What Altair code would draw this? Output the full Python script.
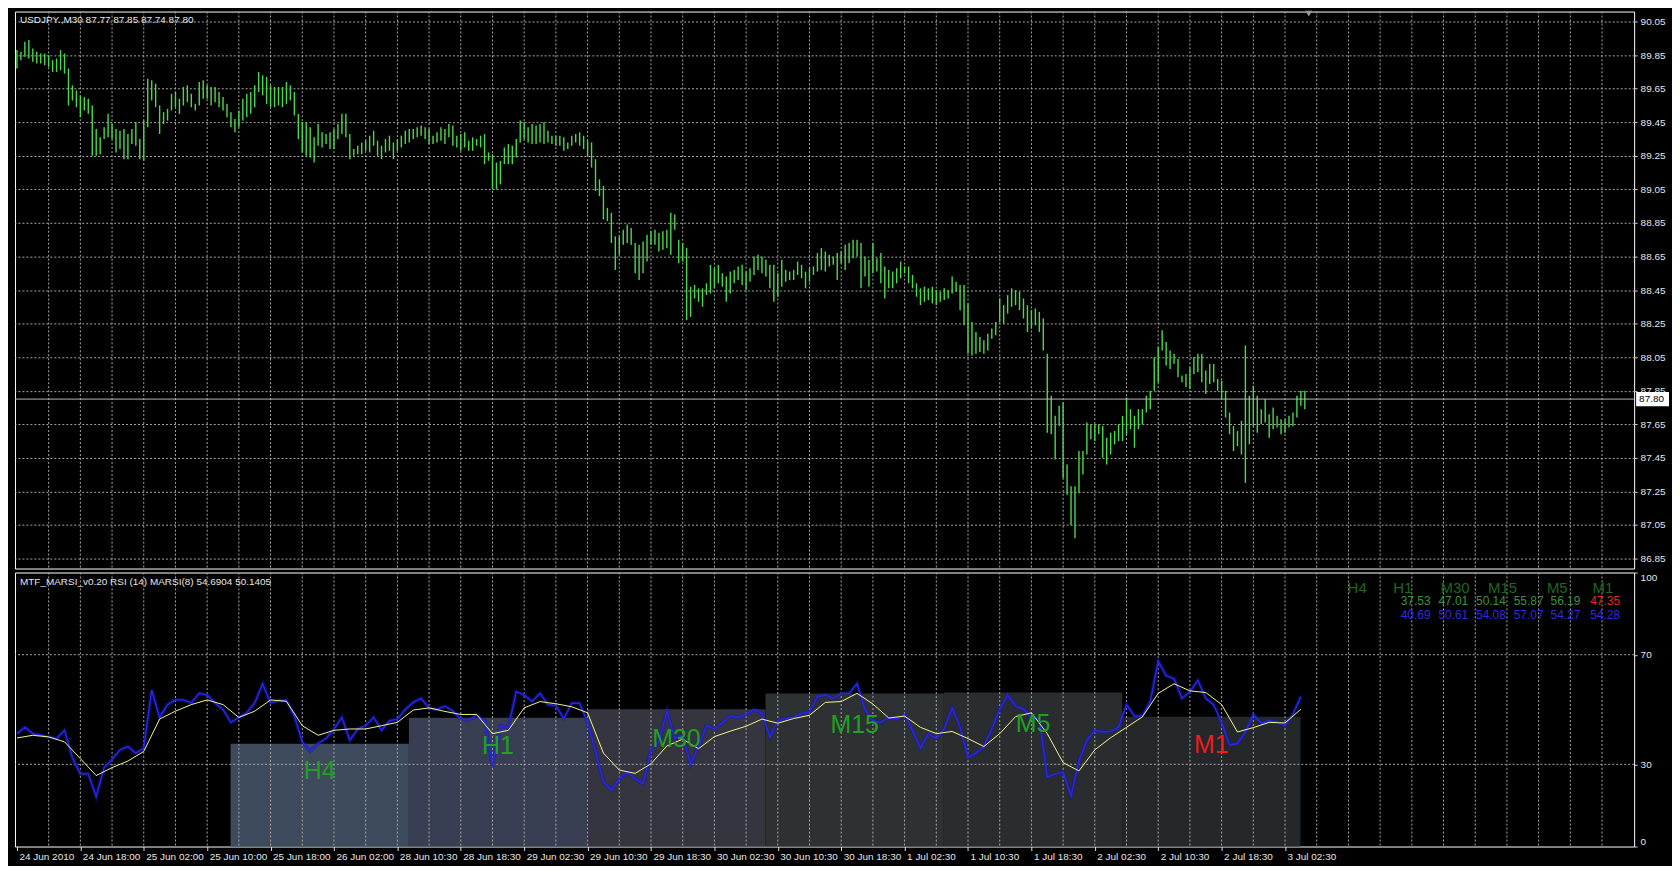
import altair as alt
import pandas as pd

# ---------------- data ----------------
header_main = "USDJPY.,M30  87.77 87.85 87.74 87.80"
last_close = 87.80

highs = [
    89.88, 89.87, 89.93, 89.94, 89.89, 89.87, 89.86, 89.86, 89.85, 89.82,
    89.83, 89.88, 89.86, 89.77, 89.67, 89.64, 89.61, 89.60, 89.59, 89.55,
    89.41, 89.36, 89.42, 89.50, 89.44, 89.41, 89.40, 89.41, 89.38, 89.41,
    89.45, 89.35, 89.46, 89.71, 89.70, 89.68, 89.55, 89.51, 89.53, 89.62,
    89.63, 89.59, 89.66, 89.67, 89.62, 89.56, 89.69, 89.70, 89.67, 89.66,
    89.66, 89.63, 89.60, 89.56, 89.51, 89.47, 89.52, 89.59, 89.62, 89.63,
    89.67, 89.75, 89.73, 89.72, 89.67, 89.66, 89.66, 89.66, 89.69, 89.67,
    89.63, 89.50, 89.45, 89.45, 89.42, 89.36, 89.44, 89.39, 89.38, 89.39,
    89.41, 89.44, 89.50, 89.50, 89.38, 89.29, 89.31, 89.33, 89.34, 89.37,
    89.40, 89.34, 89.31, 89.35, 89.37, 89.33, 89.35, 89.37, 89.40, 89.41,
    89.41, 89.42, 89.43, 89.42, 89.41, 89.37, 89.39, 89.42, 89.41, 89.44,
    89.43, 89.37, 89.38, 89.39, 89.34, 89.36, 89.35, 89.37, 89.38, 89.27,
    89.26, 89.21, 89.22, 89.30, 89.32, 89.31, 89.35, 89.46, 89.45, 89.42,
    89.44, 89.43, 89.44, 89.45, 89.40, 89.37, 89.37, 89.37, 89.36, 89.33,
    89.37, 89.38, 89.39, 89.37, 89.34, 89.33, 89.23, 89.11, 89.07, 88.94,
    88.91, 88.77, 88.77, 88.81, 88.84, 88.82, 88.73, 88.72, 88.74, 88.78,
    88.80, 88.81, 88.79, 88.80, 88.81, 88.91, 88.90, 88.75, 88.73, 88.70,
    88.47, 88.48, 88.46, 88.46, 88.49, 88.60, 88.58, 88.60, 88.55, 88.53,
    88.56, 88.57, 88.59, 88.60, 88.56, 88.58, 88.65, 88.66, 88.65, 88.63,
    88.60, 88.60, 88.55, 88.63, 88.57, 88.56, 88.57, 88.62, 88.60, 88.56,
    88.58, 88.59, 88.67, 88.70, 88.68, 88.66, 88.65, 88.67, 88.68, 88.72,
    88.73, 88.75, 88.75, 88.73, 88.65, 88.63, 88.73, 88.64, 88.67, 88.59,
    88.57, 88.56, 88.58, 88.62, 88.59, 88.59, 88.54, 88.49, 88.46, 88.47,
    88.46, 88.47, 88.45, 88.44, 88.46, 88.45, 88.53, 88.50, 88.48, 88.48,
    88.37, 88.26, 88.20, 88.17, 88.15, 88.19, 88.22, 88.26, 88.40, 88.36,
    88.42, 88.46, 88.45, 88.44, 88.40, 88.36, 88.33, 88.34, 88.32, 88.28,
    88.07, 87.82, 87.70, 87.76, 87.78, 87.41, 87.28, 87.28, 87.49, 87.49,
    87.66, 87.65, 87.65, 87.65, 87.64, 87.57, 87.60, 87.61, 87.65, 87.70,
    87.81, 87.74, 87.70, 87.74, 87.74, 87.82, 87.85, 88.05, 88.11, 88.21,
    88.14, 88.09, 88.07, 88.04, 87.94, 87.95, 87.99, 88.05, 88.07, 88.07,
    87.97, 88.01, 88.01, 87.92, 87.91, 87.85, 87.72, 87.64, 87.61, 87.67,
    88.12, 87.82, 87.88, 87.82, 87.74, 87.80, 87.71, 87.75, 87.70, 87.68,
    87.68, 87.70, 87.72, 87.82, 87.85, 87.85,
]
lows = [
    89.77, 89.82, 89.84, 89.83, 89.81, 89.80, 89.80, 89.79, 89.78, 89.75,
    89.75, 89.76, 89.74, 89.55, 89.58, 89.54, 89.48, 89.52, 89.50, 89.25,
    89.25, 89.26, 89.35, 89.36, 89.35, 89.27, 89.29, 89.23, 89.23, 89.32,
    89.31, 89.23, 89.22, 89.42, 89.58, 89.54, 89.38, 89.44, 89.46, 89.52,
    89.54, 89.50, 89.55, 89.57, 89.54, 89.52, 89.55, 89.59, 89.59, 89.55,
    89.57, 89.54, 89.52, 89.48, 89.42, 89.39, 89.42, 89.46, 89.48, 89.50,
    89.54, 89.63, 89.61, 89.56, 89.54, 89.54, 89.55, 89.54, 89.56, 89.58,
    89.49, 89.35, 89.27, 89.25, 89.24, 89.21, 89.31, 89.30, 89.32, 89.29,
    89.29, 89.35, 89.38, 89.36, 89.23, 89.25, 89.26, 89.26, 89.28, 89.27,
    89.31, 89.25, 89.23, 89.27, 89.28, 89.23, 89.28, 89.30, 89.32, 89.33,
    89.35, 89.36, 89.37, 89.35, 89.32, 89.32, 89.33, 89.34, 89.32, 89.36,
    89.31, 89.30, 89.28, 89.30, 89.28, 89.28, 89.31, 89.30, 89.20, 89.22,
    89.05, 89.05, 89.08, 89.20, 89.20, 89.20, 89.24, 89.33, 89.35, 89.33,
    89.32, 89.32, 89.33, 89.32, 89.33, 89.32, 89.31, 89.31, 89.28, 89.29,
    89.31, 89.33, 89.31, 89.29, 89.25, 89.18, 89.04, 89.01, 88.87, 88.86,
    88.73, 88.57, 88.66, 88.72, 88.73, 88.72, 88.55, 88.51, 88.55, 88.62,
    88.72, 88.72, 88.68, 88.69, 88.70, 88.66, 88.81, 88.61, 88.62, 88.27,
    88.29, 88.40, 88.38, 88.35, 88.42, 88.43, 88.46, 88.49, 88.47, 88.38,
    88.43, 88.49, 88.51, 88.48, 88.45, 88.50, 88.54, 88.57, 88.55, 88.53,
    88.46, 88.38, 88.41, 88.47, 88.50, 88.51, 88.51, 88.54, 88.52, 88.46,
    88.50, 88.54, 88.56, 88.57, 88.56, 88.59, 88.60, 88.51, 88.61, 88.57,
    88.61, 88.64, 88.65, 88.46, 88.53, 88.47, 88.55, 88.56, 88.49, 88.40,
    88.46, 88.46, 88.49, 88.52, 88.55, 88.49, 88.46, 88.41, 88.36, 88.38,
    88.39, 88.37, 88.36, 88.38, 88.39, 88.40, 88.43, 88.44, 88.33, 88.24,
    88.07, 88.06, 88.07, 88.08, 88.07, 88.09, 88.16, 88.18, 88.26, 88.25,
    88.31, 88.35, 88.36, 88.33, 88.28, 88.20, 88.22, 88.24, 88.20, 88.09,
    87.60, 87.59, 87.44, 87.64, 87.33, 87.23, 87.05, 86.97, 87.24, 87.35,
    87.47, 87.56, 87.55, 87.59, 87.45, 87.41, 87.47, 87.53, 87.55, 87.55,
    87.59, 87.62, 87.51, 87.62, 87.65, 87.72, 87.74, 87.85, 87.90, 88.09,
    88.00, 87.98, 88.01, 87.93, 87.90, 87.87, 87.86, 87.95, 87.96, 87.90,
    87.83, 87.89, 87.90, 87.85, 87.80, 87.69, 87.59, 87.49, 87.52, 87.47,
    87.30, 87.53, 87.64, 87.60, 87.65, 87.66, 87.57, 87.62, 87.63, 87.59,
    87.60, 87.63, 87.64, 87.69, 87.76, 87.74,
]

time_labels = [
    "24 Jun 2010", "24 Jun 18:00", "25 Jun 02:00", "25 Jun 10:00", "25 Jun 18:00",
    "26 Jun 02:00", "28 Jun 10:30", "28 Jun 18:30", "29 Jun 02:30", "29 Jun 10:30",
    "29 Jun 18:30", "30 Jun 02:30", "30 Jun 10:30", "30 Jun 18:30", "1 Jul 02:30",
    "1 Jul 10:30", "1 Jul 18:30", "2 Jul 02:30", "2 Jul 10:30", "2 Jul 18:30",
    "3 Jul 02:30",
]
price_ticks = [90.05, 89.85, 89.65, 89.45, 89.25, 89.05, 88.85, 88.65, 88.45,
               88.25, 88.05, 87.85, 87.65, 87.45, 87.25, 87.05, 86.85]

header_ind = "MTF_MARSI_v0.20  RSI (14)  MARSI(8) 54.6904 50.1405"
rsi_step = 2
rsi14 = [
    41.2, 43.5, 41.2, 40.6, 40.0, 39.4, 42.4, 32.4, 26.5, 26.5,
    18.2, 28.8, 31.8, 35.3, 36.5, 34.1, 35.9, 57.1, 47.1, 51.8,
    53.5, 53.5, 52.4, 55.9, 55.3, 52.4, 50.0, 45.3, 47.1, 48.8,
    52.4, 59.4, 52.4, 53.3, 53.3, 47.7, 38.2, 34.7, 37.7, 39.4,
    42.9, 47.1, 38.8, 42.9, 44.1, 47.1, 42.4, 45.9, 46.5, 50.0,
    52.6, 54.1, 50.5, 50.0, 51.2, 49.4, 46.5, 46.2, 47.9, 45.9,
    29.4, 44.1, 43.5, 56.5, 55.3, 52.9, 55.9, 51.8, 51.4, 46.7,
    52.3, 52.3, 45.3, 34.7, 23.5, 20.6, 24.7, 27.1, 24.7, 22.9,
    35.3, 38.2, 49.4, 39.4, 40.6, 30.0, 36.5, 44.1, 43.0, 45.1,
    47.6, 47.1, 48.2, 50.0, 48.6, 40.0, 46.0, 46.7, 47.1, 48.6,
    49.1, 54.7, 55.3, 54.1, 55.9, 55.9, 59.4, 50.0, 45.9, 45.3,
    47.1, 46.5, 48.2, 42.4, 35.9, 41.2, 39.4, 43.0, 50.6, 43.5,
    32.4, 34.1, 36.5, 43.0, 50.0, 55.3, 51.2, 50.2, 46.7, 46.7,
    25.3, 26.5, 27.1, 18.5, 31.2, 38.8, 42.4, 41.8, 42.0, 43.5,
    51.8, 47.6, 47.6, 52.9, 67.6, 62.4, 61.2, 54.1, 56.5, 60.6,
    54.1, 51.8, 45.3, 37.1, 37.6, 41.8, 48.2, 45.0, 45.9, 45.5,
    44.1, 48.2, 54.7,
]
marsi_step = 4
marsi8 = [
    39.6, 40.6, 40.0, 38.2, 32.1, 25.9, 28.8, 31.2, 34.7, 46.5,
    49.4, 51.8, 53.5, 51.8, 47.1, 49.4, 53.5, 53.0, 44.1, 40.6,
    42.4, 42.9, 42.9, 44.1, 45.3, 49.8, 50.6, 49.3, 48.2, 48.2,
    41.2, 42.4, 50.6, 52.9, 52.1, 51.0, 48.8, 34.1, 27.9, 26.7,
    30.2, 36.7, 39.2, 35.7, 40.1, 42.1, 43.9, 46.5, 45.0, 46.7,
    47.9, 52.6, 52.9, 55.9, 52.0, 46.9, 47.6, 43.5, 41.2, 42.0,
    39.4, 36.5, 41.2, 47.4, 48.8, 41.2, 30.6, 27.6, 35.3, 39.7,
    43.5, 47.3, 55.9, 59.4, 56.8, 56.2, 51.8, 41.8, 43.4, 45.3,
    45.1, 50.1,
]
tf_names = ["H4", "H1", "M30", "M15", "M5", "M1"]
tf_rsi = [37.53, 47.01, 50.14, 55.87, 56.19, 47.35]
tf_marsi = [40.69, 50.61, 54.08, 57.07, 54.27, 54.28]
tf_up = [True, True, True, True, True, False]
box_edges = [53.9, 98.9, 143.9, 188.9, 233.9, 278.9, 323.9]
rsi_levels = [30, 70]

# ---------------- layout / style ----------------
W = 1625
H_PRICE = 559
H_IND = 275
X_DOMAIN = [-0.5, 408.1]
FONT = "Liberation Sans"
GRID = "#a8a8a8"
TXT = "#e6e6e6"
box_colors = ["#3d4b5c", "#393f52", "#34353f", "#2e3133", "#2a2d2f", "#25282a"]
box_label_y = [27.6, 36.5, 39.4, 44.3, 44.7, 37.2]
tbl_hdr_x = [338.2, 349.7, 362.9, 374.9, 388.7, 400.2]
tbl_val_x = [349.2, 358.7, 368.2, 377.7, 387.0, 397.0]
tbl_y = [94.5, 89.7, 84.4]
grid_x = list(range(8, 408, 8))

xs = alt.Scale(domain=X_DOMAIN, nice=False, zero=False)

# ---------------- price panel ----------------
ys_p = alt.Scale(domain=[86.79, 90.11], nice=False, zero=False)
yaxis_p = alt.Axis(orient="right", values=price_ticks, format=".2f", grid=True,
                   gridColor=GRID, gridDash=[2, 2], gridWidth=1, tickSize=3,
                   tickColor="#d0d0d0", labelColor=TXT, labelFont=FONT,
                   labelFontSize=10, labelPadding=3, domain=False, title=None,
                   labelOverlap=False)


def XP(f):
    return alt.X(f, type="quantitative", scale=xs, axis=None)


def YP(f):
    return alt.Y(f, type="quantitative", scale=ys_p, axis=yaxis_p)


bars_df = pd.DataFrame({"i": list(range(len(highs))), "high": highs, "low": lows})

vgrid_p = alt.Chart(pd.DataFrame({"g": grid_x})).mark_rule(
    color=GRID, strokeDash=[2, 2], strokeWidth=1).encode(x=XP("g"))

bars = alt.Chart(bars_df).mark_rule(color="#4cd84c", strokeWidth=1.4).encode(
    x=XP("i"), y=YP("low"), y2=alt.Y2("high"))

close_df = pd.DataFrame({"p": [last_close]})
price_line = alt.Chart(close_df).mark_rule(color="#b8b8b8", strokeWidth=1).encode(
    y=YP("p"))
price_box = alt.Chart(close_df).transform_calculate(
    top="datum.p + 0.042", bot="datum.p - 0.042").mark_rect(color="#ffffff").encode(
    x=alt.value(W + 2), x2=alt.value(W + 35), y=YP("top"), y2=alt.Y2("bot"))
price_txt = alt.Chart(close_df).mark_text(
    align="left", baseline="middle", color="#000000", font=FONT, fontSize=10).encode(
    x=alt.value(W + 5), y=YP("p"), text=alt.Text("p:Q", format=".2f"))

hdr_p = alt.Chart(pd.DataFrame({"t": [header_main]})).mark_text(
    align="left", baseline="middle", color=TXT, font=FONT, fontSize=10).encode(
    x=alt.value(5), y=alt.value(9), text="t:N")

shift_mark = alt.Chart(pd.DataFrame({"i": [len(highs)]})).mark_point(
    shape="triangle-down", filled=True, color="#9a9a9a", size=45, opacity=1).encode(
    x=XP("i"), y=alt.value(2))

price_chart = alt.layer(vgrid_p, bars, price_line, price_box, price_txt, hdr_p,
                        shift_mark).properties(width=W, height=H_PRICE)

# ---------------- indicator panel ----------------
ys_i = alt.Scale(domain=[0, 100], nice=False, zero=False)
yaxis_i = alt.Axis(orient="right", values=[0, 30, 70, 100], format="d", grid=False,
                   labelFlush=True, tickSize=3, tickColor="#d0d0d0", labelColor=TXT,
                   labelFont=FONT, labelFontSize=10, labelPadding=3, domain=False,
                   title=None)
label_expr = "[" + ",".join("'" + t + "'" for t in time_labels) + "][round(datum.value / 16)]"
xaxis_i = alt.Axis(values=list(range(0, 16 * len(time_labels), 16)), labelExpr=label_expr,
                   labelAlign="left", labelFlush=False, grid=False, domain=False,
                   tickSize=4, tickColor="#e0e0e0", labelColor=TXT, labelFont=FONT,
                   labelFontSize=10, labelPadding=1, labelOffset=2, labelOverlap=False,
                   title=None)


def XI(f):
    return alt.X(f, type="quantitative", scale=xs, axis=xaxis_i)


def YI(f):
    return alt.Y(f, type="quantitative", scale=ys_i, axis=yaxis_i)


boxes_df = pd.DataFrame({
    "name": tf_names,
    "x0": box_edges[:-1],
    "x1": box_edges[1:],
    "v": tf_rsi,
    "zero": [0] * len(tf_names),
})
boxes = alt.Chart(boxes_df).mark_rect().encode(
    x=XI("x0"), x2=alt.X2("x1"), y=YI("zero"), y2=alt.Y2("v"),
    color=alt.Color("name:N", scale=alt.Scale(domain=tf_names, range=box_colors),
                    legend=None))

vgrid_i = alt.Chart(pd.DataFrame({"g": grid_x})).mark_rule(
    color=GRID, strokeDash=[2, 2], strokeWidth=1).encode(x=XI("g"))
hgrid_i = alt.Chart(pd.DataFrame({"lv": rsi_levels})).mark_rule(
    color=GRID, strokeDash=[2, 2], strokeWidth=1).encode(y=YI("lv"))

rsi_df = pd.DataFrame({"i": [k * rsi_step for k in range(len(rsi14))], "v": rsi14})
ma_df = pd.DataFrame({"i": [k * marsi_step for k in range(len(marsi8))], "v": marsi8})

rsi_glow = alt.Chart(rsi_df).mark_line(color="#1a1aa8", strokeWidth=4, opacity=0.45).encode(
    x=XI("i"), y=YI("v"))
rsi_line = alt.Chart(rsi_df).mark_line(color="#2626f2", strokeWidth=1.4).encode(
    x=XI("i"), y=YI("v"))
ma_line = alt.Chart(ma_df).mark_line(color="#f4f48c", strokeWidth=1).encode(
    x=XI("i"), y=YI("v"))

lbl_df = pd.DataFrame({
    "name": tf_names,
    "cx": [(a + b) / 2 for a, b in zip(box_edges[:-1], box_edges[1:])],
    "ly": box_label_y,
    "col": ["#22a022" if u else "#ee1c1c" for u in tf_up],
})
box_labels = alt.Chart(lbl_df).mark_text(
    align="center", baseline="middle", font=FONT, fontSize=25).encode(
    x=XI("cx"), y=YI("ly"), text="name:N", color=alt.Color("col:N", scale=None))

hdr_i = alt.Chart(pd.DataFrame({"t": [header_ind]})).mark_text(
    align="left", baseline="middle", color=TXT, font=FONT, fontSize=10).encode(
    x=alt.value(5), y=alt.value(10), text="t:N")

tbl_hdr_df = pd.DataFrame({"t": tf_names, "x": tbl_hdr_x, "y": [tbl_y[0]] * 6})
tbl_hdr = alt.Chart(tbl_hdr_df).mark_text(
    align="center", baseline="middle", color="#216621", font=FONT, fontSize=15).encode(
    x=XI("x"), y=YI("y"), text="t:N")

tbl_r1_df = pd.DataFrame({
    "t": [f"{v:.2f}" for v in tf_rsi], "x": tbl_val_x, "y": [tbl_y[1]] * 6,
    "col": ["#3f913f" if u else "#e02828" for u in tf_up]})
tbl_r1 = alt.Chart(tbl_r1_df).mark_text(
    align="left", baseline="middle", font=FONT, fontSize=12).encode(
    x=XI("x"), y=YI("y"), text="t:N", color=alt.Color("col:N", scale=None))

tbl_r2_df = pd.DataFrame({
    "t": [f"{v:.2f}" for v in tf_marsi], "x": tbl_val_x, "y": [tbl_y[2]] * 6})
tbl_r2 = alt.Chart(tbl_r2_df).mark_text(
    align="left", baseline="middle", color="#2b2be0", font=FONT, fontSize=12).encode(
    x=XI("x"), y=YI("y"), text="t:N")

ind_chart = alt.layer(boxes, vgrid_i, hgrid_i, rsi_glow, rsi_line, ma_line, box_labels,
                      hdr_i, tbl_hdr, tbl_r1, tbl_r2).properties(width=W, height=H_IND)

chart = alt.vconcat(
    price_chart, ind_chart, spacing=2,
    padding={"left": 0, "top": 0, "right": 2, "bottom": 2},
    background="#000000",
).configure_view(stroke="#ffffff", strokeWidth=1)

chart.save("out.html", embed_options={"renderer": "svg", "actions": False})
